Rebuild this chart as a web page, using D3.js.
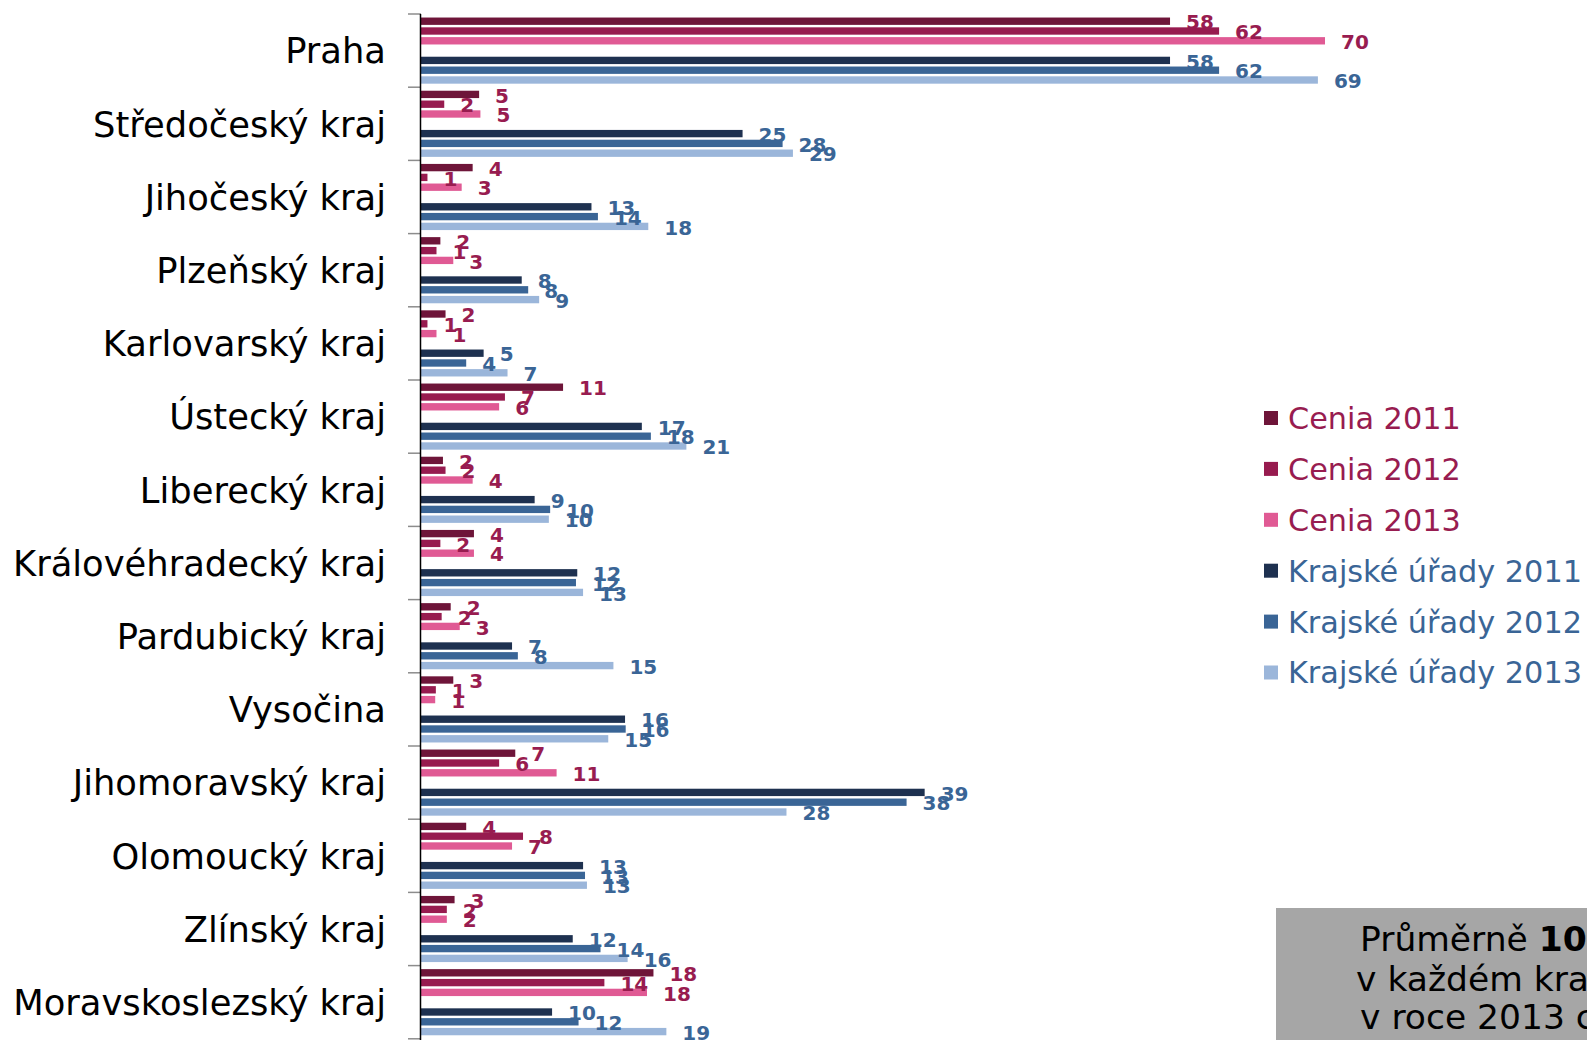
<!DOCTYPE html>
<html>
<head>
<meta charset="utf-8">
<script src="https://cdn.jsdelivr.net/npm/d3@7"></script>
<style>
    html, body { margin: 0; padding: 0; background: #fff; overflow: hidden; }
    svg { display: block; font-family: 'DejaVu Sans', Verdana, sans-serif; }
</style>
</head>
<body>
<div id="chart"></div>
<script>
// Data - kraje a počty (délky sloupců, popisky zaokrouhlené)
const kraje = [
    'Praha', 'Středočeský kraj', 'Jihočeský kraj', 'Plzeňský kraj', 'Karlovarský kraj',
    'Ústecký kraj', 'Liberecký kraj', 'Královéhradecký kraj', 'Pardubický kraj', 'Vysočina',
    'Jihomoravský kraj', 'Olomoucký kraj', 'Zlínský kraj', 'Moravskoslezský kraj'
];
const serie = ['Cenia 2011', 'Cenia 2012', 'Cenia 2013', 'Krajské úřady 2011', 'Krajské úřady 2012', 'Krajské úřady 2013'];

const cenia2011 = [58, 4.5, 4, 1.5, 1.9, 11, 1.7, 4.1, 2.3, 2.5, 7.3, 3.5, 2.6, 18];
const cenia2012 = [61.8, 1.8, 0.5, 1.2, 0.5, 6.5, 1.9, 1.5, 1.6, 1.15, 6.05, 7.9, 2, 14.2];
const cenia2013 = [70, 4.6, 3.15, 2.5, 1.2, 6.05, 4, 4.1, 3, 1.1, 10.5, 7.05, 2, 17.5];
const ku2011 = [58, 24.9, 13.2, 7.8, 4.85, 17.1, 8.8, 12.1, 7.05, 15.8, 39, 12.55, 11.75, 10.15];
const ku2012 = [61.8, 28, 13.7, 8.3, 3.5, 17.8, 10, 12, 7.5, 15.85, 37.6, 12.7, 13.9, 12.2];
const ku2013 = [69.45, 28.8, 17.6, 9.15, 6.7, 20.55, 9.9, 12.55, 14.9, 14.5, 28.3, 12.85, 16, 19];

const hodnoty = [cenia2011, cenia2012, cenia2013, ku2011, ku2012, ku2013];

const barvy = ['#6e1539', '#971b4f', '#e05a94', '#1e3150', '#3a6596', '#9bb6da'];
const barvyPopisku = ['#981c50', '#981c50', '#981c50', '#3a6596', '#3a6596', '#3a6596'];

const width = 1587;
const height = 1040;

const svg = d3.select('#chart').append('svg')
    .attr('width', width)
    .attr('height', height);

svg.append('rect')
    .attr('width', width)
    .attr('height', height)
    .attr('fill', '#fff');

// Škály
const x = d3.scaleLinear()
    .domain([0, 70])
    .range([421, 1325]);

const y = d3.scaleBand()
    .domain(kraje)
    .range([14, 14 + 73.2 * kraje.length]);

// mezera mezi skupinou Cenia a krajskými úřady
const sloty = [serie[0], serie[1], serie[2], '__mezera', serie[3], serie[4], serie[5]];
const yIn = d3.scaleBand()
    .domain(sloty)
    .range([0, y.bandwidth()])
    .paddingInner(0.25)
    .paddingOuter(0.36);

// Tabulka pro sloupce
const radky = [];
kraje.forEach((k, i) => {
    serie.forEach((s, j) => {
        radky.push({ kraj: k, serie: s, idx: j, value: hodnoty[j][i] });
    });
});

// Sloupce
svg.append('g')
    .selectAll('rect')
    .data(radky)
    .enter()
    .append('rect')
    .attr('x', x(0))
    .attr('y', d => y(d.kraj) + yIn(d.serie))
    .attr('width', d => x(d.value) - x(0))
    .attr('height', yIn.bandwidth())
    .attr('fill', d => barvy[d.idx]);

// Popisky hodnot
svg.append('g')
    .selectAll('text')
    .data(radky)
    .enter()
    .append('text')
    .attr('x', d => x(d.value) + 16)
    .attr('y', d => y(d.kraj) + yIn(d.serie) + yIn.bandwidth() / 2 + 1)
    .attr('dy', '0.36em')
    .attr('fill', d => barvyPopisku[d.idx])
    .style('font-size', '20px')
    .style('font-weight', 'bold')
    .text(d => Math.round(d.value));

// Osa Y
const osa = svg.append('g')
    .attr('transform', `translate(${x(0)},0)`)
    .call(d3.axisLeft(y).tickSize(0).tickPadding(35));

osa.select('.domain').remove();
osa.selectAll('text')
    .attr('fill', '#000')
    .attr('dy', '0.36em')
    .style('font-size', '35.3px')
    .style('font-family', "'DejaVu Sans', Verdana, sans-serif");

// ryska mezi kraji
const hranice = kraje.map(k => y(k)).concat([y.range()[1]]);
svg.append('g')
    .selectAll('line')
    .data(hranice)
    .enter()
    .append('line')
    .attr('x1', x(0) - 13)
    .attr('x2', x(0))
    .attr('y1', d => d)
    .attr('y2', d => d)
    .attr('stroke', '#8c8c8c')
    .attr('stroke-width', 1.5);

svg.append('line')
    .attr('x1', x(0) - 0.5)
    .attr('x2', x(0) - 0.5)
    .attr('y1', 14)
    .attr('y2', height)
    .attr('stroke', '#000')
    .attr('stroke-width', 1.5);

// Legenda
const legenda = svg.append('g')
    .attr('transform', 'translate(1264,418)');

const polozky = legenda.selectAll('g')
    .data(serie)
    .enter()
    .append('g')
    .attr('transform', (d, i) => `translate(0,${i * 50.9})`);

polozky.append('rect')
    .attr('x', 0)
    .attr('y', -7)
    .attr('width', 14)
    .attr('height', 14)
    .attr('fill', (d, i) => barvy[i]);

polozky.append('text')
    .attr('x', 24)
    .attr('y', 0)
    .attr('dy', '0.36em')
    .attr('fill', (d, i) => barvyPopisku[i])
    .style('font-size', '30.3px')
    .text(d => d);

// Šedý rámeček s komentářem (oříznutý okrajem)
svg.append('rect')
    .attr('x', 1276)
    .attr('y', 908)
    .attr('width', width - 1276)
    .attr('height', height - 908)
    .attr('fill', '#a6a6a6');

const poznamka = svg.append('g')
    .style('font-size', '34.5px')
    .attr('fill', '#000');

const t1 = poznamka.append('text')
    .attr('x', 1360)
    .attr('y', 951);
t1.append('tspan').text('Průměrně ');
t1.append('tspan').style('font-weight', 'bold').text('10');

poznamka.append('text')
    .attr('x', 1356)
    .attr('y', 991)
    .text('v každém kraji');

poznamka.append('text')
    .attr('x', 1360)
    .attr('y', 1029)
    .text('v roce 2013 c');
</script>
</body>
</html>
